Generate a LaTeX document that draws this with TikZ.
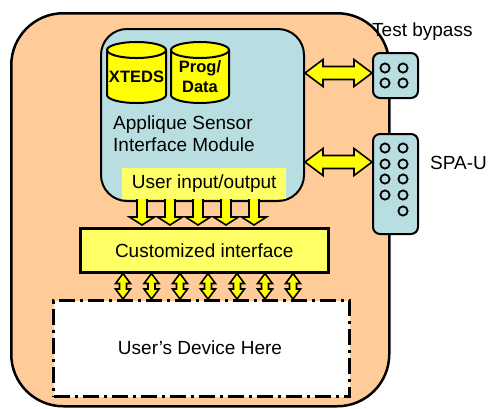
\documentclass[tikz,border=0pt]{standalone}
\usepackage{fontspec}
\setmainfont{Liberation Sans}
\usetikzlibrary{calc}

\definecolor{peach}{RGB}{255,204,153}
\definecolor{paleblue}{RGB}{185,222,226}
\definecolor{lightyellow}{RGB}{255,255,102}
\definecolor{brightyellow}{RGB}{255,255,0}

\tikzset{
  box/.style={draw=black, inner sep=0pt, anchor=north west},
  blockarrow/.style={draw=black, fill=brightyellow, line width=1.6pt, line join=miter},
  pin/.style={draw=black, line width=1.8pt},
  txt/.style={font=\fontsize{19}{22}\selectfont, inner sep=0pt},
  cyltxt/.style={font=\fontsize{16.5}{20}\selectfont\bfseries, inner sep=0pt, align=center},
  cylbody/.style={draw=black, fill=brightyellow, line width=2pt}
}

% double-headed horizontal block arrow between two named points
\newcommand\blockH[2]{%
  \filldraw[blockarrow] let \p1=(#1), \p2=(#2) in
    (\x1,\y1) -- (\x1+18pt,\y1+13.5pt) -- (\x1+18pt,\y1+6.5pt) -- (\x2-18pt,\y1+6.5pt)
    -- (\x2-18pt,\y1+13.5pt) -- (\x2,\y1) -- (\x2-18pt,\y1-13.5pt) -- (\x2-18pt,\y1-6.5pt)
    -- (\x1+18pt,\y1-6.5pt) -- (\x1+18pt,\y1-13.5pt) -- cycle;}
% single downward block arrow from #1 to the tip #2
\newcommand\blockDown[2]{%
  \filldraw[blockarrow] let \p1=(#1), \p2=(#2) in
    (\x1-5pt,\y1) -- (\x1-5pt,\y2+8pt) -- (\x1-12.5pt,\y2+8pt) -- (\x1,\y2)
    -- (\x1+12.5pt,\y2+8pt) -- (\x1+5pt,\y2+8pt) -- (\x1+5pt,\y1) -- cycle;}
% double-headed vertical block arrow, #1 on top, #2 below
\newcommand\blockV[2]{%
  \filldraw[blockarrow] let \p1=(#1), \p2=(#2) in
    (\x1,\y1) -- (\x1+7.5pt,\y1-10pt) -- (\x1+3.5pt,\y1-10pt) -- (\x1+3.5pt,\y2+10pt)
    -- (\x1+7.5pt,\y2+10pt) -- (\x1,\y2) -- (\x1-7.5pt,\y2+10pt) -- (\x1-3.5pt,\y2+10pt)
    -- (\x1-3.5pt,\y1-10pt) -- (\x1-7.5pt,\y1-10pt) -- cycle;}
% yellow storage cylinder: left x, right x, top y, bottom y
\newcommand\storage[4]{%
  \filldraw[cylbody] (#1,#3+8) -- (#1,#4-8)
    arc[start angle=180, end angle=360, x radius={(#2-#1)/2*1pt}, y radius=8pt]
    -- (#2,#3+8)
    arc[start angle=0, end angle=180, x radius={(#2-#1)/2*1pt}, y radius=8pt] -- cycle;
  \draw[cylbody, fill=none] (#1,#3+8)
    arc[start angle=180, end angle=360, x radius={(#2-#1)/2*1pt}, y radius=8pt];}

\begin{document}
\begin{tikzpicture}[x=1pt, y=-1pt]
\useasboundingbox (0,0) rectangle (490,408);

% housing
\node[box, fill=peach, line width=2.5pt, rounded corners=52pt,
      minimum width=378pt, minimum height=393pt] (case) at (10,12) {};

% applique sensor interface module
\node[box, fill=paleblue, line width=2pt, rounded corners=26pt,
      minimum width=203pt, minimum height=172pt] (asim) at (100,28) {};
\storage{107}{166}{42}{103}
\storage{171}{229}{42}{103}
\node[cyltxt] (xteds) at (136.5,77) {XTEDS};
\node[cyltxt] (prog) at (200,77) {Prog/\\Data};
\node[txt, anchor=west, align=left] (asimlabel) at (113,134)
  {Applique Sensor\\Interface Module};

% customized interface and the user's device
\node[box, fill=lightyellow, line width=2.5pt,
      minimum width=248pt, minimum height=44pt] (ci) at (79,227) {};
\node[txt] (cilabel) at (ci.center) {Customized interface};
\node[box, fill=white, line width=3pt, dash pattern=on 16pt off 5pt on 3pt off 5pt,
      minimum width=296pt, minimum height=96pt] (dev) at (52,299) {};
\node[txt] (devlabel) at (200,348) {User’s Device Here};

% user input/output lines into the customized interface
\foreach \xx in {142,170,198,226,254} {
  \coordinate (dtop) at (\xx,190);
  \coordinate (dtip) at ([yshift=2pt]dtop |- ci.north);
  \blockDown{dtop}{dtip}
}
\node[box, fill=lightyellow, draw=none,
      minimum width=164pt, minimum height=31pt] (uio) at (122,168) {};
\node[txt] (uiolabel) at (uio.center) {User input/output};

% lines between the customized interface and the device
\foreach \xx in {123,151.5,180,208,237,265,293} {
  \coordinate (vtop) at (\xx,0);
  \blockV{vtop |- ci.south}{vtop |- dev.north}
}

% connectors on the housing
\node[box, fill=paleblue, line width=2pt, rounded corners=7pt,
      minimum width=45pt, minimum height=45pt] (tb) at (372,52) {};
\node[box, fill=paleblue, line width=2pt, rounded corners=7pt,
      minimum width=45pt, minimum height=100pt] (spa) at (372,133) {};
\foreach \py in {68,83}
  \foreach \px in {385,403}
    \draw[pin] (\px,\py) circle[radius=4.6pt];
\foreach \py in {148,164,179,195}
  \foreach \px in {385,403}
    \draw[pin] (\px,\py) circle[radius=4.6pt];
\draw[pin] (403,211) circle[radius=4.6pt];

\coordinate (tbport) at (372,73);
\coordinate (spaport) at (372,162);
\coordinate (tbfrom) at (asim.east |- tbport);
\coordinate (spafrom) at (asim.east |- spaport);
\blockH{tbfrom}{tbport}
\blockH{spafrom}{spaport}

\node[txt, anchor=west] (tblabel) at (372,32) {Test bypass};
\node[txt, anchor=west] (spalabel) at (430,163) {SPA-U};
\end{tikzpicture}
\end{document}
